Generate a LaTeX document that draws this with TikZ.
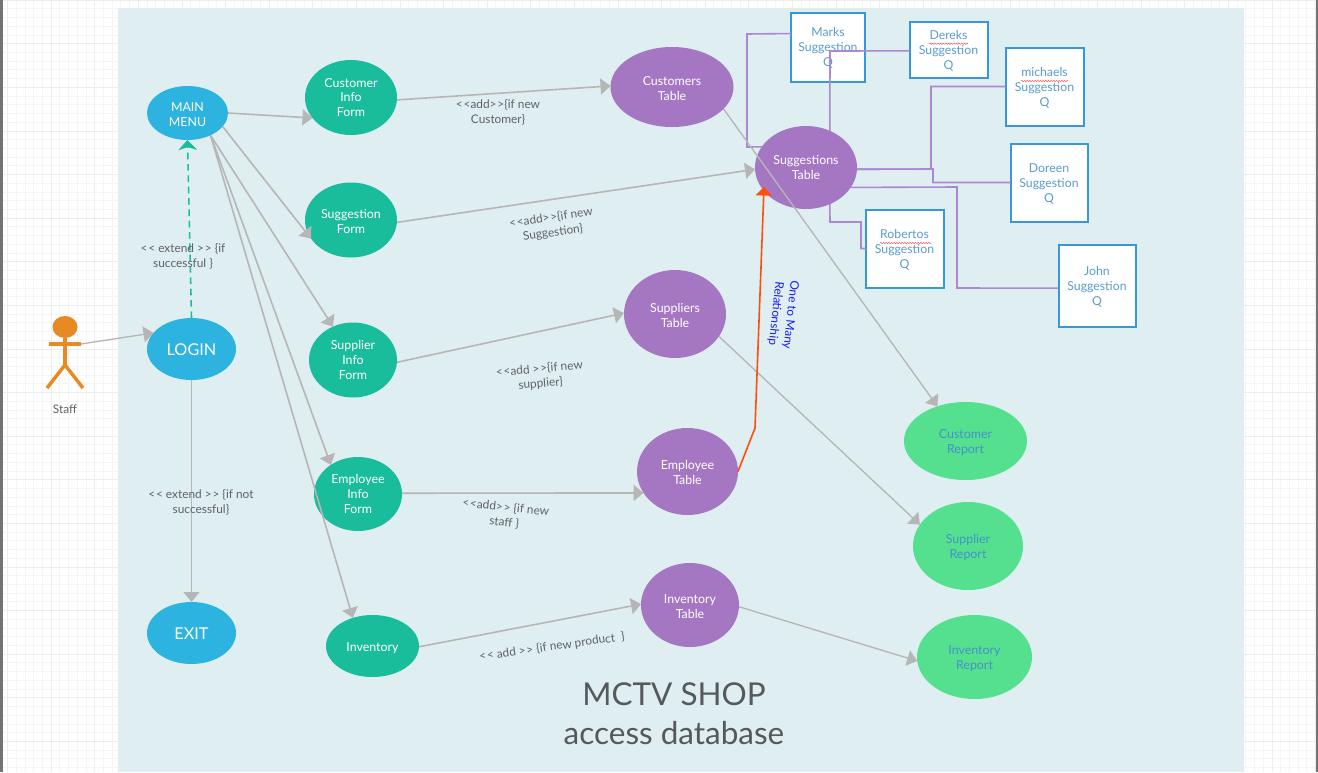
\documentclass[tikz,border=0pt]{standalone}
\usepackage{fontspec}
\setmainfont{Lato}
\usetikzlibrary{shapes.geometric,arrows.meta,decorations.pathmorphing}
\newcommand{\angl}{\mbox{<}\kern0.6pt\mbox{<}}
\newcommand{\angr}{\mbox{>}\kern0.6pt\mbox{>}}
\newcommand{\dnone}{\rule{0pt}{8.4pt}}
\newcommand{\dntwo}{\rule{0pt}{9.6pt}}
\definecolor{panel}{HTML}{DFEEF1}
\definecolor{gridc}{HTML}{F5F5F5}
\definecolor{gridm}{HTML}{EDEDED}
\definecolor{edgegray}{HTML}{B6B6B6}
\definecolor{bluefill}{HTML}{2CB3DF}
\definecolor{tealfill}{HTML}{19BC9B}
\definecolor{purplefill}{HTML}{A577C3}
\definecolor{greenfill}{HTML}{54E08F}
\definecolor{boxblue}{HTML}{3498DB}
\definecolor{boxtext}{HTML}{5A9BD0}
\definecolor{reporttext}{HTML}{4691C8}
\definecolor{labelgray}{HTML}{5F6368}
\definecolor{actor}{HTML}{E78A23}
\definecolor{orangeline}{HTML}{FF4D0D}
\definecolor{purpleline}{HTML}{AC88CF}
\tikzset{
  x=0.75pt,y=-0.75pt,
  sz/.style 2 args={minimum width=#1*0.75pt,minimum height=#2*0.75pt},
  oval/.style={ellipse,inner sep=0pt,outer sep=0pt,align=center,text=white,font=\fontsize{9.3}{11.2}\selectfont},
  bluenode/.style={oval,fill=bluefill},
  tealnode/.style={oval,fill=tealfill},
  purplenode/.style={oval,fill=purplefill},
  greennode/.style={oval,fill=greenfill,text=reporttext},
  qbox/.style={rectangle,draw=boxblue,line width=1.5pt,fill=white,inner sep=0pt,outer sep=0pt,align=center,text=boxtext,font=\fontsize{9.2}{11.2}\selectfont},
  flow/.style={draw=edgegray,line width=1.2pt,-{Triangle[length=7.5pt,width=12pt,color=edgegray]}},
  plainflow/.style={draw=edgegray,line width=1pt,-{Triangle[length=7.5pt,width=12pt,color=edgegray]}},
  link/.style={draw=purpleline,line width=1.2pt},
  lbl/.style={align=center,text=labelgray,inner sep=0pt,font=\fontsize{8.9}{11.2}\selectfont},
  squig/.style={draw=red!70!white,line width=0.35pt,decorate,decoration={snake,amplitude=0.45pt,segment length=2pt}}
}
\begin{document}
\begin{tikzpicture}
\useasboundingbox (0,0) rectangle (1318,772);
\fill[white] (0,0) rectangle (1318,772);
\foreach \gx in {7.4,16.12,...,1318} \draw[gridc,line width=0.4pt] (\gx,0) -- (\gx,772);
\foreach \gy in {0,8.72,...,772} \draw[gridc,line width=0.4pt] (0,\gy) -- (1318,\gy);
\foreach \gx in {7.4,51,...,1318} \draw[gridm,line width=0.4pt] (\gx,0) -- (\gx,772);
\foreach \gy in {0,43.6,...,772} \draw[gridm,line width=0.4pt] (0,\gy) -- (1318,\gy);
\fill[black!55] (0,0) rectangle (3,772);
\fill[black!55] (1316,0) rectangle (1318,772);
\fill[panel] (118,8) rectangle (1244,772);

% actor
\node[ellipse,fill=actor,inner sep=0pt,sz={25}{22}] (head) at (65,327) {};
\coordinate (armL) at (49,344);
\coordinate (armR) at (81,344);
\coordinate (hip) at (65,365);
\coordinate (footL) at (47,388);
\coordinate (footR) at (83,388);
\draw[actor,line width=2.6pt] (armL) -- (armR);
\draw[actor,line width=2.6pt] (head.south) -- (hip);
\draw[actor,line width=2.6pt] (footL) -- (hip) -- (footR);
\node[lbl] (staff) at (65,409.5) {Staff};

% ovals
\node[bluenode,sz={81}{54}] (main) at (187.5,113) {\dnone MAIN\\MENU};
\node[bluenode,sz={89}{62},font=\fontsize{12.2}{14}\selectfont] (login) at (191.5,349) {\rule{0pt}{10.4pt}LOGIN};
\node[bluenode,sz={89}{62},font=\fontsize{12.2}{14}\selectfont] (exit) at (191.5,633) {\rule{0pt}{10.4pt}EXIT};
\node[tealnode,sz={92}{75}] (custform) at (351,97.5) {Customer\\Info\\Form};
\node[tealnode,sz={92}{75}] (suggform) at (351,220) {\dnone Suggestion\\Form};
\node[tealnode,sz={88}{75}] (supform) at (353,360) {Supplier\\Info\\Form};
\node[tealnode,sz={88}{74}] (empform) at (358,494) {Employee\\Info\\Form};
\node[tealnode,sz={93}{62}] (inv) at (372.5,646) {\dntwo Inventory};
\node[purplenode,sz={123}{80}] (custt) at (672,87) {\dnone Customers\\Table};
\node[purplenode,sz={102}{83}] (sugt) at (806,167.5) {Suggestions\\Table};
\node[purplenode,sz={102}{88}] (supt) at (675,314) {\dnone Suppliers\\Table};
\node[purplenode,sz={101}{87}] (empt) at (687.5,471.5) {\dnone Employee\\Table};
\node[purplenode,sz={98}{84}] (invt) at (690,605) {\dnone Inventory\\Table};
\node[greennode,sz={123}{78}] (custr) at (965.5,441) {\dnone Customer\\Report};
\node[greennode,sz={110}{88}] (supr) at (968,546) {\dnone Supplier\\Report};
\node[greennode,sz={115}{84}] (invr) at (974.5,657) {\dnone Inventory\\Report};

% boxes
\node[qbox,sz={74}{69}] (marks) at (828,47) {\dnone Marks\\Suggestion\\Q};
\node[qbox,sz={78}{56}] (dereks) at (948.5,49.5) {\dnone Dereks\\Suggestion\\Q};
\node[qbox,sz={78}{78}] (michaels) at (1044.5,86.5) {\dnone michaels\\Suggestion\\Q};
\node[qbox,sz={77}{78}] (doreen) at (1049,182.5) {\dnone Doreen\\Suggestion\\Q};
\node[qbox,sz={78}{78}] (robertos) at (904.5,248.5) {\dnone Robertos\\Suggestion\\Q};
\node[qbox,sz={77}{82}] (john) at (1097,285.5) {\dnone John\\Suggestion\\Q};

% purple links
\draw[link] (marks.160.6) -- (747,34) -- (747,147) -- (sugt.155);
\draw[link] (dereks.182) -- (830,51) -- (sugt.57);
\draw[link] (michaels.west) -- (931,86.5) -- (931,169) -- (sugt.-2);
\draw[link] (doreen.west) -- (933,182.5) -- (933,169) -- (sugt.-2);
\draw[link] (john.184) -- (957,288) -- (957,187) -- (sugt.-24);
\draw[link] (robertos.west) -- (861,248.5) -- (861,222) -- (830,222) -- (sugt.-57);

% flows
\draw[plainflow] (armR) -- (login.157);
\draw[flow] (main.east) -- (custform.208);
\draw[flow] (main.-21) -- (suggform.205);
\draw[flow] (main.-44) -- (supform.121);
\draw[flow] (main.-44) -- (empform.133);
\draw[flow] (main.-44) -- (inv.125);
\draw[flow] (custform.-3) -- (custt.179);
\draw[flow] (suggform.-3) -- (sugt.182);
\draw[flow] (supform.-3) -- (supt.179);
\draw[flow] (empform.1) -- (empt.206);
\draw[flow] (inv.-1) -- (invt.179);
\draw[plainflow] (custt.-23) -- (custr.129);
\draw[plainflow] (supt.-27) -- (supr.156);
\draw[plainflow] (invt.-2) -- (invr.184);
\draw[flow] (login.south) -- (exit.north);
\draw[draw=tealfill,line width=1.2pt,dash pattern=on 5pt off 3.5pt,-{Stealth[length=7.5pt,width=14pt,inset=2.2pt,color=tealfill]}] (login.north) -- (main.south);
\coordinate (bend) at (755,428);
\draw[draw=orangeline,line width=1.2pt,shorten >=-3pt,-{Triangle[length=6.5pt,width=12pt,color=orangeline]}] (empt.east) -- (bend) -- (sugt.209);

% squiggles
\draw[squig] (929,43.7) -- (968,43.7);
\draw[squig] (1021,81) -- (1068,81);
\draw[squig] (880,243) -- (931,243);

% labels
\node[lbl] (l1) at (498,112.5) {\angl add\angr\{if new\\Customer\}};
\node[lbl,rotate=8] (l2) at (552,225.5) {\angl add\angr\{if new\\Suggestion\}};
\node[lbl,rotate=5] (l3) at (540,376.5) {\angl add \angr\{if new\\supplier\}};
\node[lbl,rotate=-6] (l4) at (505,515) {\angl add\angr\ \{if new\\staff \}};
\node[lbl,rotate=8] (l5) at (552,647) {\angl\ add \angr\ \{if new product~~\}};
\node[lbl] (l6) at (183,256.5) {\angl\ extend \angr\ \{if\\successful \}};
\node[lbl] (l7) at (201,502) {\angl\ extend \angr\ \{if not\\successful\}};
\node[lbl,rotate=-96,text={rgb,255:red,26;green,26;blue,240}] (l8) at (783,314) {One to Many\\Relationship};
\node[align=center,text=labelgray!90!black,inner sep=0pt,font=\fontsize{23.6}{29.25}\selectfont] (title) at (674,714) {MCTV SHOP\\access database};
\end{tikzpicture}
\end{document}
